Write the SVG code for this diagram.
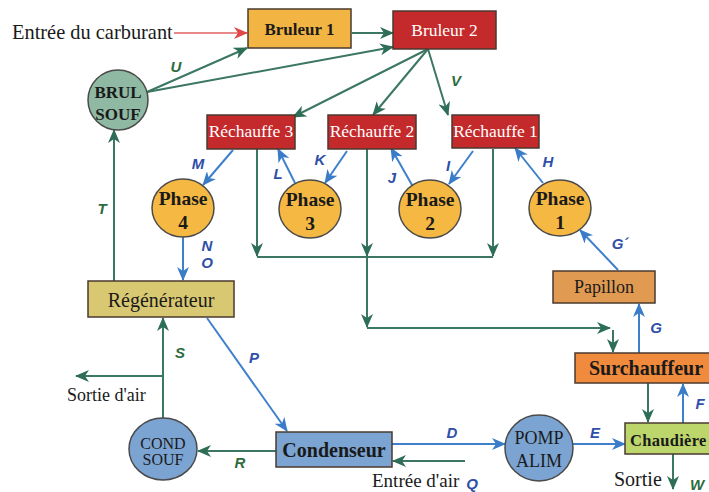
<svg xmlns="http://www.w3.org/2000/svg" width="709" height="492" viewBox="0 0 709 492">
<style>
  .box{stroke:#4a3a30;stroke-width:1.5}
  .circ{stroke:#4a4a4a;stroke-width:1.5}
  .t{font-family:"Liberation Serif","Times New Roman",serif;text-anchor:middle;fill:#1a1a1a}
  .b{font-weight:bold}
  .w{fill:#ffffff}
  .plain{font-family:"Liberation Serif","Times New Roman",serif;fill:#1a1a1a}
  .g{fill:none;stroke:#3b7762;stroke-width:2;marker-end:url(#ag)}
  .gl{fill:none;stroke:#3b7762;stroke-width:2}
  .bl{fill:none;stroke:#3f80cc;stroke-width:2;marker-end:url(#ab)}
  .r{fill:none;stroke:#e06060;stroke-width:1.5;marker-end:url(#ar)}
  .lb{font-family:"Liberation Sans",Arial,sans-serif;font-weight:bold;font-style:italic;font-size:15px;text-anchor:middle;fill:#2f4fa8}
  .lg{font-family:"Liberation Sans",Arial,sans-serif;font-weight:bold;font-style:italic;font-size:15px;text-anchor:middle;fill:#2e6b3e}
</style>
<defs>
  <marker id="ag" markerUnits="userSpaceOnUse" markerWidth="14" markerHeight="12" refX="13" refY="6" orient="auto">
    <path d="M0,0 L14,6 L0,12 L4,6 Z" fill="#2f6e56"/>
  </marker>
  <marker id="ab" markerUnits="userSpaceOnUse" markerWidth="14" markerHeight="12" refX="13" refY="6" orient="auto">
    <path d="M0,0 L14,6 L0,12 L4,6 Z" fill="#3a7cc8"/>
  </marker>
  <marker id="ar" markerUnits="userSpaceOnUse" markerWidth="14" markerHeight="12" refX="13" refY="6" orient="auto">
    <path d="M0,0 L14,6 L0,12 L4,6 Z" fill="#e04848"/>
  </marker>
</defs>
<rect width="709" height="492" fill="#ffffff"/>

<!-- connectors -->
<g id="connectors">
  <path class="r" d="M174,33 H247"/>
  <path class="g" d="M352,33 H393"/>
  <path class="g" d="M147,92 L247,48"/>
  <path class="g" d="M147,92 L393,47"/>
  <path class="g" d="M428,49 L293,117"/>
  <path class="g" d="M428,49 L373,115"/>
  <path class="g" d="M428,49 L448,115"/>
  <path class="bl" d="M233,150 L203,185"/>
  <path class="bl" d="M295,183 L278,149"/>
  <path class="bl" d="M347,151 L325,183"/>
  <path class="bl" d="M412,185 L391,148"/>
  <path class="bl" d="M473,151 L449,184"/>
  <path class="bl" d="M543,183 L515,148"/>
  <path class="bl" d="M618,270 L580,230"/>
  <path class="g" d="M257,149 V256"/>
  <path class="g" d="M367,149 V256"/>
  <path class="g" d="M493,149 V256"/>
  <path class="gl" d="M257,257 H493"/>
  <path class="g" d="M367,257 V327"/>
  <path class="g" d="M367,328 H610"/>
  <path class="g" d="M613,330 V352"/>
  <path class="bl" d="M183,237 V280"/>
  <path class="g" d="M114,281 V130"/>
  <path class="g" d="M163,418 V318"/>
  <path class="g" d="M163,376 H76"/>
  <path class="bl" d="M207,318 L287,431"/>
  <path class="g" d="M276,451 H198"/>
  <path class="bl" d="M392,444 H505"/>
  <path class="g" d="M465,461 H393"/>
  <path class="bl" d="M573,444 H625"/>
  <path class="bl" d="M639,353 V304"/>
  <path class="g" d="M648,383 V422"/>
  <path class="bl" d="M683,423 V384"/>
  <path class="g" d="M673,454 V489"/>
</g>

<!-- connector labels -->
<g id="labels">
  <text class="lg" x="176" y="72">U</text>
  <text class="lg" x="456" y="86">V</text>
  <text class="lg" x="102" y="214">T</text>
  <text class="lb" x="198" y="169">M</text>
  <text class="lb" x="207" y="251">N</text>
  <text class="lb" x="207" y="268">O</text>
  <text class="lb" x="278" y="179">L</text>
  <text class="lb" x="320" y="165">K</text>
  <text class="lb" x="392" y="183">J</text>
  <text class="lb" x="448" y="171">I</text>
  <text class="lb" x="548" y="167">H</text>
  <text class="lb" x="620" y="249">G´</text>
  <text class="lb" x="656" y="333">G</text>
  <text class="lb" x="700" y="409">F</text>
  <text class="lb" x="595" y="438">E</text>
  <text class="lb" x="452" y="438">D</text>
  <text class="lb" x="472" y="489">Q</text>
  <text class="lb" x="254" y="363">P</text>
  <text class="lg" x="180" y="358">S</text>
  <text class="lg" x="240" y="468">R</text>
  <text class="lg" x="697" y="490">W</text>
</g>

<!-- free texts -->
<text class="plain" x="12" y="39" font-size="20.4">Entrée du carburant</text>
<text class="plain" x="67" y="401" font-size="18">Sortie d'air</text>
<text class="plain" x="372" y="487" font-size="19">Entrée d'air</text>
<text class="plain" x="614" y="486" font-size="20">Sortie</text>

<!-- nodes -->
<g id="bruleur1">
  <rect class="box" x="248" y="9" width="103" height="39" fill="#f2b543"/>
  <text class="t b" x="299.5" y="35" font-size="17">Bruleur 1</text>
</g>
<g id="bruleur2">
  <rect class="box" x="393" y="11" width="103" height="38" fill="#c4292b"/>
  <text class="t w" x="444.5" y="36" font-size="17.5">Bruleur 2</text>
</g>
<g id="brul-souf">
  <circle class="circ" cx="118" cy="100" r="30" fill="#8fb9a3"/>
  <text class="t b" x="118" y="98" font-size="17">BRUL</text>
  <text class="t b" x="118" y="120" font-size="17">SOUF</text>
</g>
<g id="rechauffe3">
  <rect class="box" x="207" y="115" width="88" height="34" fill="#c4292b"/>
  <text class="t w" x="251" y="137" font-size="17.5">Réchauffe 3</text>
</g>
<g id="rechauffe2">
  <rect class="box" x="328" y="115" width="88" height="34" fill="#c4292b"/>
  <text class="t w" x="372" y="137" font-size="17.5">Réchauffe 2</text>
</g>
<g id="rechauffe1">
  <rect class="box" x="452" y="115" width="87" height="33" fill="#c4292b"/>
  <text class="t w" x="495.5" y="137" font-size="17.5">Réchauffe 1</text>
</g>
<g id="phase4">
  <ellipse class="circ" cx="183" cy="208" rx="31" ry="29" fill="#f4b843"/>
  <text class="t b" x="183" y="205" font-size="19.5">Phase</text>
  <text class="t b" x="183" y="229" font-size="19.5">4</text>
</g>
<g id="phase3">
  <ellipse class="circ" cx="310" cy="209" rx="31" ry="29" fill="#f4b843"/>
  <text class="t b" x="310" y="206" font-size="19.5">Phase</text>
  <text class="t b" x="310" y="230" font-size="19.5">3</text>
</g>
<g id="phase2">
  <ellipse class="circ" cx="430" cy="209" rx="31" ry="29" fill="#f4b843"/>
  <text class="t b" x="430" y="206" font-size="19.5">Phase</text>
  <text class="t b" x="430" y="230" font-size="19.5">2</text>
</g>
<g id="phase1">
  <ellipse class="circ" cx="560" cy="208" rx="31" ry="28" fill="#f4b843"/>
  <text class="t b" x="560" y="205" font-size="19.5">Phase</text>
  <text class="t b" x="560" y="229" font-size="19.5">1</text>
</g>
<g id="regenerateur">
  <rect class="box" x="88" y="281" width="146" height="36" fill="#d9c872"/>
  <text class="t" x="161" y="307" font-size="20">Régénérateur</text>
</g>
<g id="papillon">
  <rect class="box" x="553" y="271" width="102" height="32" fill="#e19a52"/>
  <text class="t" x="604" y="293" font-size="18">Papillon</text>
</g>
<g id="surchauffeur">
  <rect class="box" x="575" y="353" width="140" height="30" fill="#f08a3c"/>
  <text class="t b" x="646" y="375" font-size="20" fill="#3a1a0c">Surchauffeur</text>
</g>
<g id="cond-souf">
  <ellipse class="circ" cx="163" cy="449" rx="34" ry="31" fill="#7ba4d2"/>
  <text class="t" x="163" y="449" font-size="16" fill="#1a2030">COND</text>
  <text class="t" x="163" y="465" font-size="16" fill="#1a2030">SOUF</text>
</g>
<g id="condenseur">
  <rect class="box" x="276" y="432" width="116" height="35" fill="#7ba4d2"/>
  <text class="t b" x="334" y="457" font-size="20">Condenseur</text>
</g>
<g id="pomp-alim">
  <ellipse class="circ" cx="539" cy="448" rx="34" ry="33" fill="#7ba4d2"/>
  <text class="t" x="539" y="444" font-size="18">POMP</text>
  <text class="t" x="539" y="467" font-size="18">ALIM</text>
</g>
<g id="chaudiere">
  <rect class="box" x="625" y="423" width="90" height="31" fill="#bdd66c"/>
  <text class="plain b" x="630" y="446" font-size="16.5" letter-spacing="0.3">Chaudière</text>
</g>
</svg>
